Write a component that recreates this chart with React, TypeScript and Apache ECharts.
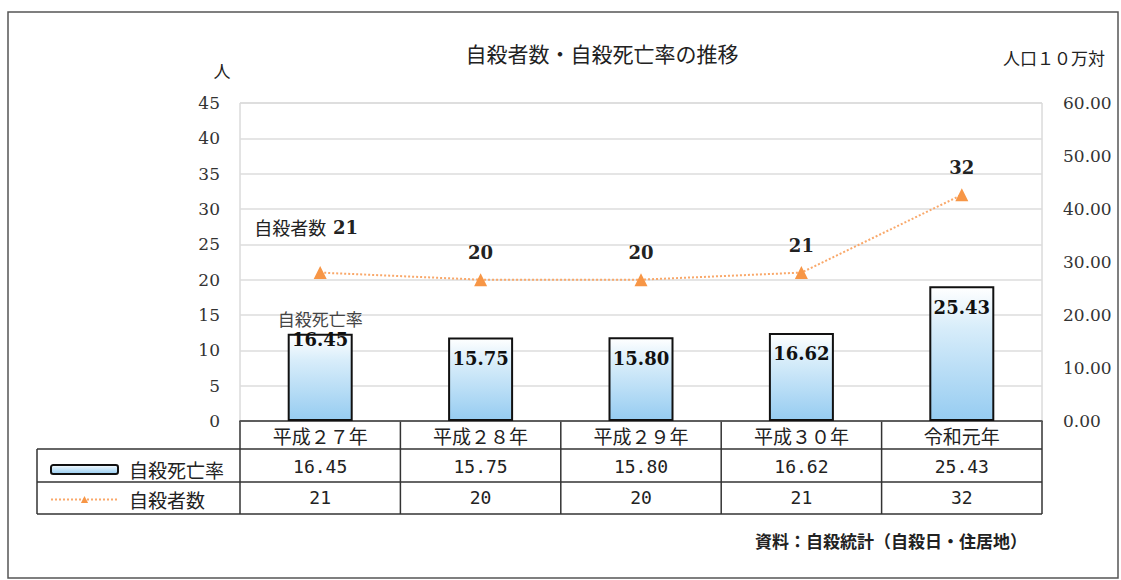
import React, { useEffect, useRef } from "react";
import * as echarts from "echarts";

const categories = ["平成２７年", "平成２８年", "平成２９年", "平成３０年", "令和元年"];
const rates = [16.45, 15.75, 15.8, 16.62, 25.43];
const counts = [21, 20, 20, 21, 32];
const rateName = "自殺死亡率";
const countName = "自殺者数";
const titleText = "自殺者数・自殺死亡率の推移";
const leftUnit = "人";
const rightUnit = "人口１０万対";
const sourceText = "資料：自殺統計（自殺日・住居地）";

const JP = "'Noto Sans CJK JP', sans-serif";
const SERIF = "'DejaVu Serif', serif";
const MONO = "'DejaVu Sans Mono', monospace";

const GL = 240;
const GT = 103;
const GR = 1042;
const GB = 421;
const ROW1 = 449;
const ROW2 = 482;
const ROW3 = 514;
const TABLE_L = 37;

export default function App() {
  const ref = useRef<HTMLDivElement>(null);
  useEffect(() => {
    if (!ref.current) return;
    const chart = echarts.init(ref.current, null, { renderer: "svg" });
    const n = categories.length;
    const colW = (GR - GL) / n;
    const lineStyle = { stroke: "#333", lineWidth: 1.5 };
    const tableLines: any[] = [];
    [ROW1, ROW2, ROW3].forEach((y) =>
      tableLines.push({ type: "line", shape: { x1: TABLE_L, y1: y, x2: GR, y2: y }, style: lineStyle })
    );
    tableLines.push({ type: "line", shape: { x1: TABLE_L, y1: ROW1, x2: TABLE_L, y2: ROW3 }, style: lineStyle });
    for (let i = 0; i <= n; i++) {
      const x = GL + i * colW;
      tableLines.push({ type: "line", shape: { x1: x, y1: GB, x2: x, y2: ROW3 }, style: lineStyle });
    }

    const barFill = new echarts.graphic.LinearGradient(0, 0, 0, 1, [
      { offset: 0, color: "#ffffff" },
      { offset: 0.3, color: "#d8edfa" },
      { offset: 1, color: "#96ccf1" },
    ]);

    chart.setOption({
      animation: false,
      title: {
        text: titleText,
        left: 597,
        top: 37,
        textAlign: "center",
        textStyle: { fontFamily: JP, fontSize: 21, fontWeight: "normal", color: "#222" },
      },
      legend: {
        orient: "vertical",
        left: 45,
        top: 455,
        itemWidth: 67,
        itemHeight: 9,
        itemGap: 11,
        data: [rateName, countName],
        textStyle: { fontFamily: JP, fontSize: 19, color: "#222", padding: [0, 0, 0, 6] },
      },
      grid: {
        left: GL,
        top: GT,
        width: GR - GL,
        height: GB - GT,
        show: true,
        borderColor: "#c8c8c8",
        borderWidth: 1,
      },
      xAxis: [
        {
          type: "category",
          data: categories,
          position: "bottom",
          axisLine: { show: true, lineStyle: { color: "#333", width: 1.5 } },
          axisTick: { show: false },
          axisLabel: { interval: 0, margin: 5, fontFamily: JP, fontSize: 19, color: "#222" },
        },
        {
          type: "category",
          data: rates.map((v) => v.toFixed(2)),
          position: "bottom",
          offset: ROW1 - GB,
          axisLine: { show: false },
          axisTick: { show: false },
          axisLabel: { interval: 0, margin: 8, fontFamily: MONO, fontSize: 18, color: "#222" },
        },
        {
          type: "category",
          data: counts.map((v) => String(v)),
          position: "bottom",
          offset: ROW2 - GB,
          axisLine: { show: false },
          axisTick: { show: false },
          axisLabel: { interval: 0, margin: 6, fontFamily: MONO, fontSize: 18, color: "#222" },
        },
      ],
      yAxis: [
        {
          type: "value",
          min: 0,
          max: 45,
          interval: 5,
          position: "left",
          axisLine: { show: false },
          axisTick: { show: false },
          splitLine: { show: true, lineStyle: { color: "#dcdcdc", width: 1.5 } },
          axisLabel: { margin: 20, fontFamily: SERIF, fontSize: 17, color: "#333" },
        },
        {
          type: "value",
          min: 0,
          max: 60,
          interval: 10,
          position: "right",
          axisLine: { show: false },
          axisTick: { show: false },
          splitLine: { show: false },
          axisLabel: {
            margin: 21,
            fontFamily: SERIF,
            fontSize: 17,
            color: "#333",
            formatter: (v: number) => v.toFixed(2),
          },
        },
      ],
      series: [
        {
          name: rateName,
          type: "bar",
          xAxisIndex: 0,
          yAxisIndex: 1,
          barWidth: 65,
          data: rates.map((v, i) =>
            i === 0 ? { value: v, label: { offset: [0, -32], distance: 6 } } : v
          ),
          itemStyle: { color: barFill, borderColor: "#111", borderWidth: 2 },
          label: {
            show: true,
            position: "insideTop",
            distance: 11,
            formatter: (p: any) =>
              p.dataIndex === 0
                ? `{n|${p.seriesName}}\n{v|${Number(p.value).toFixed(2)}}`
                : `{v|${Number(p.value).toFixed(2)}}`,
            rich: {
              n: { fontFamily: JP, fontSize: 17, color: "#444", lineHeight: 22 },
              v: { fontFamily: SERIF, fontSize: 18, fontWeight: "bold", color: "#111", lineHeight: 20 },
            },
          },
          z: 2,
        },
        {
          name: countName,
          type: "line",
          xAxisIndex: 0,
          yAxisIndex: 0,
          data: counts.map((v, i) => (i === 0 ? { value: v, label: { offset: [-14, -18] } } : v)),
          symbol: "triangle",
          symbolSize: 13,
          itemStyle: { color: "#f79646" },
          lineStyle: { color: "#f9a86a", width: 2, type: "dotted" },
          label: {
            show: true,
            position: "top",
            distance: 12,
            formatter: (p: any) =>
              p.dataIndex === 0 ? `{n|${p.seriesName}}  {v|${p.value}}` : `{v|${p.value}}`,
            rich: {
              n: { fontFamily: JP, fontSize: 18, color: "#222" },
              v: { fontFamily: SERIF, fontSize: 18, fontWeight: "bold", color: "#222" },
            },
          },
          z: 3,
        },
      ],
      graphic: [
        {
          type: "rect",
          shape: { x: 8, y: 12, width: 1110, height: 566 },
          style: { fill: "none", stroke: "#555", lineWidth: 1.5 },
          silent: true,
        },
        ...tableLines,
        {
          type: "text",
          x: 222,
          y: 70,
          style: { text: leftUnit, font: `17px ${JP}`, fill: "#222", align: "center", verticalAlign: "middle" },
        },
        {
          type: "text",
          x: 1105,
          y: 57,
          style: { text: rightUnit, font: `17px ${JP}`, fill: "#222", align: "right", verticalAlign: "middle" },
        },
        {
          type: "text",
          x: 1027,
          y: 540,
          style: {
            text: sourceText,
            font: `bold 17px ${JP}`,
            fill: "#222",
            align: "right",
            verticalAlign: "middle",
          },
        },
      ],
    });
    return () => chart.dispose();
  }, []);
  return (
    <div
      ref={ref}
      style={{ position: "fixed", left: 0, top: 0, width: 1121, height: 580, background: "#fff" }}
    />
  );
}
